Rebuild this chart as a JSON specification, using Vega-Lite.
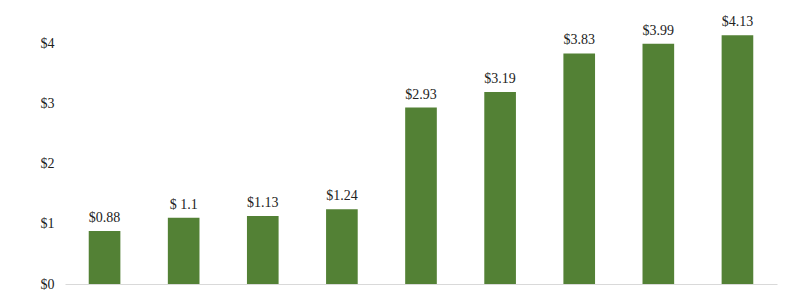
{
  "$schema": "https://vega.github.io/schema/vega-lite/v6.json",
  "autosize": "none",
  "width": 712,
  "height": 283,
  "padding": {"left": 65, "top": 1, "right": 23, "bottom": 9},
  "background": "white",
  "config": {"view": {"stroke": null}, "font": "Liberation Serif"},
  "data": {"values": [
    {"cat": "A", "value": 0.88, "label": "$0.88"},
    {"cat": "B", "value": 1.10, "label": "$ 1.1"},
    {"cat": "C", "value": 1.13, "label": "$1.13"},
    {"cat": "D", "value": 1.24, "label": "$1.24"},
    {"cat": "E", "value": 2.93, "label": "$2.93"},
    {"cat": "F", "value": 3.19, "label": "$3.19"},
    {"cat": "G", "value": 3.83, "label": "$3.83"},
    {"cat": "H", "value": 3.99, "label": "$3.99"},
    {"cat": "I", "value": 4.13, "label": "$4.13"}
  ]},
  "encoding": {
    "x": {"field": "cat", "type": "nominal", "sort": null,
      "scale": {"paddingInner": 0.6, "paddingOuter": 0.3},
      "axis": {"title": null, "labels": false, "ticks": false, "domainColor": "#d9d9d9", "domainWidth": 1}},
    "y": {"field": "value", "type": "quantitative",
      "scale": {"domain": [0, 4.7], "nice": false},
      "axis": {"title": null, "values": [0, 1, 2, 3, 4], "labelExpr": "'$' + datum.value",
        "grid": false, "domain": false, "ticks": false, "labelPadding": 11,
        "labelFont": "Liberation Serif", "labelFontSize": 14, "labelColor": "#222"}}
  },
  "layer": [
    {"mark": {"type": "bar", "color": "#538135"}},
    {"mark": {"type": "text", "baseline": "bottom", "dy": -6, "font": "Liberation Serif", "fontSize": 14, "color": "#222"},
      "encoding": {"text": {"field": "label"}}}
  ]
}
